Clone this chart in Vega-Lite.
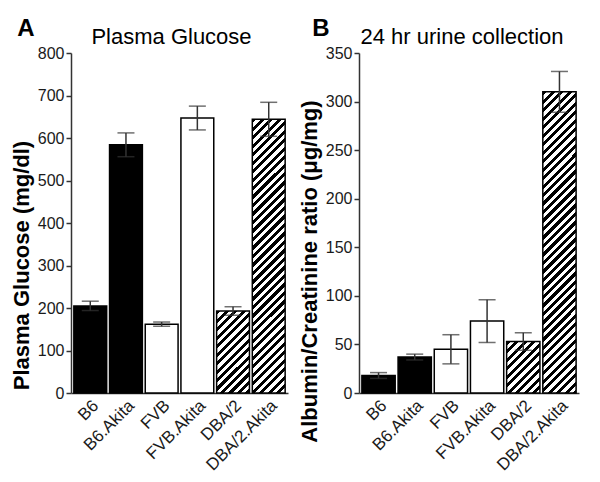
{
"$schema": "https://vega.github.io/schema/vega-lite/v6.json",
"background": "white",
"padding": {"left": 10, "top": 17, "right": 5, "bottom": 5},
"spacing": 10,
"config": {
 "view": {"stroke": null},
 "font": "Liberation Sans",
 "axis": {"grid": false, "domainColor": "#333", "domainWidth": 1.5, "tickColor": "#333", "tickWidth": 1.5, "tickSize": 5, "labelFont": "Liberation Sans", "labelFontSize": 16, "labelColor": "#1a1a1a", "labelPadding": 2, "titleFont": "Liberation Sans", "titleFontSize": 22, "titleFontWeight": "bold", "titleColor": "#000", "titlePadding": 4}
},
"data": {"values": [
 {"strain": "B6", "glucose": 205, "glu_lo": 194, "glu_hi": 216, "acr": 18, "acr_lo": 15, "acr_hi": 21},
 {"strain": "B6.Akita", "glucose": 584, "glu_lo": 556, "glu_hi": 612, "acr": 37, "acr_lo": 34, "acr_hi": 40},
 {"strain": "FVB", "glucose": 162, "glu_lo": 157, "glu_hi": 167, "acr": 45, "acr_lo": 30, "acr_hi": 60},
 {"strain": "FVB.Akita", "glucose": 647, "glu_lo": 619, "glu_hi": 675, "acr": 74, "acr_lo": 52, "acr_hi": 96},
 {"strain": "DBA/2", "glucose": 193, "glu_lo": 183, "glu_hi": 203, "acr": 53, "acr_lo": 44, "acr_hi": 62},
 {"strain": "DBA/2.Akita", "glucose": 644, "glu_lo": 604, "glu_hi": 684, "acr": 310, "acr_lo": 289, "acr_hi": 331}
]},
"hconcat": [
 {
 "title": {"text": "A", "anchor": "start", "fontSize": 24, "fontWeight": "bold", "color": "#000", "dx": 7, "offset": -15},
 "hconcat": [
 {
  "width": 217, "height": 340,
  "title": {"text": "Plasma Glucose", "frame": "group", "anchor": "middle", "fontSize": 22, "fontWeight": "normal", "color": "#000", "dx": -8, "offset": -4},
  "encoding": {
   "x": {"field": "strain", "type": "nominal", "sort": null, "scale": {"domain": ["B6", "B6.Akita", "FVB", "FVB.Akita", "DBA/2", "DBA/2.Akita"], "paddingInner": 0.08, "paddingOuter": 0.08}, "axis": {"title": null, "ticks": false, "labelAngle": -45, "labelFontSize": 17, "labelPadding": 4}}
  },
  "layer": [
   {
    "mark": {"type": "bar", "stroke": "#000", "strokeWidth": 1.5},
    "encoding": {
     "y": {"field": "glucose", "type": "quantitative", "scale": {"domain": [0, 800]}, "axis": {"title": "Plasma Glucose (mg/dl)", "titleY": 212, "values": [0, 100, 200, 300, 400, 500, 600, 700, 800]}},
     "fill": {"condition": [
       {"test": "datum.strain === 'DBA/2'", "value": {"gradient": "linear", "x1": 0, "y1": 0, "x2": 0.5709, "y2": 1.4273, "stops": [{"offset":0,"color":"#000"},{"offset":0.03125,"color":"#000"},{"offset":0.03125,"color":"#fff"},{"offset":0.0625,"color":"#fff"},{"offset":0.0625,"color":"#000"},{"offset":0.09375,"color":"#000"},{"offset":0.09375,"color":"#fff"},{"offset":0.125,"color":"#fff"},{"offset":0.125,"color":"#000"},{"offset":0.15625,"color":"#000"},{"offset":0.15625,"color":"#fff"},{"offset":0.1875,"color":"#fff"},{"offset":0.1875,"color":"#000"},{"offset":0.21875,"color":"#000"},{"offset":0.21875,"color":"#fff"},{"offset":0.25,"color":"#fff"},{"offset":0.25,"color":"#000"},{"offset":0.28125,"color":"#000"},{"offset":0.28125,"color":"#fff"},{"offset":0.3125,"color":"#fff"},{"offset":0.3125,"color":"#000"},{"offset":0.34375,"color":"#000"},{"offset":0.34375,"color":"#fff"},{"offset":0.375,"color":"#fff"},{"offset":0.375,"color":"#000"},{"offset":0.40625,"color":"#000"},{"offset":0.40625,"color":"#fff"},{"offset":0.4375,"color":"#fff"},{"offset":0.4375,"color":"#000"},{"offset":0.46875,"color":"#000"},{"offset":0.46875,"color":"#fff"},{"offset":0.5,"color":"#fff"},{"offset":0.5,"color":"#000"},{"offset":0.53125,"color":"#000"},{"offset":0.53125,"color":"#fff"},{"offset":0.5625,"color":"#fff"},{"offset":0.5625,"color":"#000"},{"offset":0.59375,"color":"#000"},{"offset":0.59375,"color":"#fff"},{"offset":0.625,"color":"#fff"},{"offset":0.625,"color":"#000"},{"offset":0.65625,"color":"#000"},{"offset":0.65625,"color":"#fff"},{"offset":0.6875,"color":"#fff"},{"offset":0.6875,"color":"#000"},{"offset":0.71875,"color":"#000"},{"offset":0.71875,"color":"#fff"},{"offset":0.75,"color":"#fff"},{"offset":0.75,"color":"#000"},{"offset":0.78125,"color":"#000"},{"offset":0.78125,"color":"#fff"},{"offset":0.8125,"color":"#fff"},{"offset":0.8125,"color":"#000"},{"offset":0.84375,"color":"#000"},{"offset":0.84375,"color":"#fff"},{"offset":0.875,"color":"#fff"},{"offset":0.875,"color":"#000"},{"offset":0.90625,"color":"#000"},{"offset":0.90625,"color":"#fff"},{"offset":0.9375,"color":"#fff"},{"offset":0.9375,"color":"#000"},{"offset":0.96875,"color":"#000"},{"offset":0.96875,"color":"#fff"},{"offset":1,"color":"#fff"}]}},
       {"test": "datum.strain === 'DBA/2.Akita'", "value": {"gradient": "linear", "x1": 0, "y1": 0, "x2": 0.1465, "y2": 1.2225, "stops": [{"offset":0,"color":"#000"},{"offset":0.0125,"color":"#000"},{"offset":0.0125,"color":"#fff"},{"offset":0.025,"color":"#fff"},{"offset":0.025,"color":"#000"},{"offset":0.0375,"color":"#000"},{"offset":0.0375,"color":"#fff"},{"offset":0.05,"color":"#fff"},{"offset":0.05,"color":"#000"},{"offset":0.0625,"color":"#000"},{"offset":0.0625,"color":"#fff"},{"offset":0.075,"color":"#fff"},{"offset":0.075,"color":"#000"},{"offset":0.0875,"color":"#000"},{"offset":0.0875,"color":"#fff"},{"offset":0.1,"color":"#fff"},{"offset":0.1,"color":"#000"},{"offset":0.1125,"color":"#000"},{"offset":0.1125,"color":"#fff"},{"offset":0.125,"color":"#fff"},{"offset":0.125,"color":"#000"},{"offset":0.1375,"color":"#000"},{"offset":0.1375,"color":"#fff"},{"offset":0.15,"color":"#fff"},{"offset":0.15,"color":"#000"},{"offset":0.1625,"color":"#000"},{"offset":0.1625,"color":"#fff"},{"offset":0.175,"color":"#fff"},{"offset":0.175,"color":"#000"},{"offset":0.1875,"color":"#000"},{"offset":0.1875,"color":"#fff"},{"offset":0.2,"color":"#fff"},{"offset":0.2,"color":"#000"},{"offset":0.2125,"color":"#000"},{"offset":0.2125,"color":"#fff"},{"offset":0.225,"color":"#fff"},{"offset":0.225,"color":"#000"},{"offset":0.2375,"color":"#000"},{"offset":0.2375,"color":"#fff"},{"offset":0.25,"color":"#fff"},{"offset":0.25,"color":"#000"},{"offset":0.2625,"color":"#000"},{"offset":0.2625,"color":"#fff"},{"offset":0.275,"color":"#fff"},{"offset":0.275,"color":"#000"},{"offset":0.2875,"color":"#000"},{"offset":0.2875,"color":"#fff"},{"offset":0.3,"color":"#fff"},{"offset":0.3,"color":"#000"},{"offset":0.3125,"color":"#000"},{"offset":0.3125,"color":"#fff"},{"offset":0.325,"color":"#fff"},{"offset":0.325,"color":"#000"},{"offset":0.3375,"color":"#000"},{"offset":0.3375,"color":"#fff"},{"offset":0.35,"color":"#fff"},{"offset":0.35,"color":"#000"},{"offset":0.3625,"color":"#000"},{"offset":0.3625,"color":"#fff"},{"offset":0.375,"color":"#fff"},{"offset":0.375,"color":"#000"},{"offset":0.3875,"color":"#000"},{"offset":0.3875,"color":"#fff"},{"offset":0.4,"color":"#fff"},{"offset":0.4,"color":"#000"},{"offset":0.4125,"color":"#000"},{"offset":0.4125,"color":"#fff"},{"offset":0.425,"color":"#fff"},{"offset":0.425,"color":"#000"},{"offset":0.4375,"color":"#000"},{"offset":0.4375,"color":"#fff"},{"offset":0.45,"color":"#fff"},{"offset":0.45,"color":"#000"},{"offset":0.4625,"color":"#000"},{"offset":0.4625,"color":"#fff"},{"offset":0.475,"color":"#fff"},{"offset":0.475,"color":"#000"},{"offset":0.4875,"color":"#000"},{"offset":0.4875,"color":"#fff"},{"offset":0.5,"color":"#fff"},{"offset":0.5,"color":"#000"},{"offset":0.5125,"color":"#000"},{"offset":0.5125,"color":"#fff"},{"offset":0.525,"color":"#fff"},{"offset":0.525,"color":"#000"},{"offset":0.5375,"color":"#000"},{"offset":0.5375,"color":"#fff"},{"offset":0.55,"color":"#fff"},{"offset":0.55,"color":"#000"},{"offset":0.5625,"color":"#000"},{"offset":0.5625,"color":"#fff"},{"offset":0.575,"color":"#fff"},{"offset":0.575,"color":"#000"},{"offset":0.5875,"color":"#000"},{"offset":0.5875,"color":"#fff"},{"offset":0.6,"color":"#fff"},{"offset":0.6,"color":"#000"},{"offset":0.6125,"color":"#000"},{"offset":0.6125,"color":"#fff"},{"offset":0.625,"color":"#fff"},{"offset":0.625,"color":"#000"},{"offset":0.6375,"color":"#000"},{"offset":0.6375,"color":"#fff"},{"offset":0.65,"color":"#fff"},{"offset":0.65,"color":"#000"},{"offset":0.6625,"color":"#000"},{"offset":0.6625,"color":"#fff"},{"offset":0.675,"color":"#fff"},{"offset":0.675,"color":"#000"},{"offset":0.6875,"color":"#000"},{"offset":0.6875,"color":"#fff"},{"offset":0.7,"color":"#fff"},{"offset":0.7,"color":"#000"},{"offset":0.7125,"color":"#000"},{"offset":0.7125,"color":"#fff"},{"offset":0.725,"color":"#fff"},{"offset":0.725,"color":"#000"},{"offset":0.7375,"color":"#000"},{"offset":0.7375,"color":"#fff"},{"offset":0.75,"color":"#fff"},{"offset":0.75,"color":"#000"},{"offset":0.7625,"color":"#000"},{"offset":0.7625,"color":"#fff"},{"offset":0.775,"color":"#fff"},{"offset":0.775,"color":"#000"},{"offset":0.7875,"color":"#000"},{"offset":0.7875,"color":"#fff"},{"offset":0.8,"color":"#fff"},{"offset":0.8,"color":"#000"},{"offset":0.8125,"color":"#000"},{"offset":0.8125,"color":"#fff"},{"offset":0.825,"color":"#fff"},{"offset":0.825,"color":"#000"},{"offset":0.8375,"color":"#000"},{"offset":0.8375,"color":"#fff"},{"offset":0.85,"color":"#fff"},{"offset":0.85,"color":"#000"},{"offset":0.8625,"color":"#000"},{"offset":0.8625,"color":"#fff"},{"offset":0.875,"color":"#fff"},{"offset":0.875,"color":"#000"},{"offset":0.8875,"color":"#000"},{"offset":0.8875,"color":"#fff"},{"offset":0.9,"color":"#fff"},{"offset":0.9,"color":"#000"},{"offset":0.9125,"color":"#000"},{"offset":0.9125,"color":"#fff"},{"offset":0.925,"color":"#fff"},{"offset":0.925,"color":"#000"},{"offset":0.9375,"color":"#000"},{"offset":0.9375,"color":"#fff"},{"offset":0.95,"color":"#fff"},{"offset":0.95,"color":"#000"},{"offset":0.9625,"color":"#000"},{"offset":0.9625,"color":"#fff"},{"offset":0.975,"color":"#fff"},{"offset":0.975,"color":"#000"},{"offset":0.9875,"color":"#000"},{"offset":0.9875,"color":"#fff"},{"offset":1,"color":"#fff"}]}},
       {"test": "datum.strain === 'B6' || datum.strain === 'B6.Akita'", "value": "#000"}
      ], "value": "#fff"}
    }
   },
   {
    "mark": {"type": "rule", "color": "#333", "strokeWidth": 1.5},
    "encoding": {
     "y": {"field": "glu_lo", "type": "quantitative", "scale": {"domain": [0, 800]}, "axis": {"title": "Plasma Glucose (mg/dl)", "titleY": 212, "values": [0, 100, 200, 300, 400, 500, 600, 700, 800]}},
     "y2": {"field": "glu_hi"}
    }
   },
   {
    "mark": {"type": "tick", "color": "#333", "thickness": 1.5, "size": 17},
    "encoding": {
     "y": {"field": "glu_lo", "type": "quantitative", "scale": {"domain": [0, 800]}, "axis": {"title": "Plasma Glucose (mg/dl)", "titleY": 212, "values": [0, 100, 200, 300, 400, 500, 600, 700, 800]}}
    }
   },
   {
    "mark": {"type": "tick", "color": "#333", "thickness": 1.5, "size": 17},
    "encoding": {
     "y": {"field": "glu_hi", "type": "quantitative", "scale": {"domain": [0, 800]}, "axis": {"title": "Plasma Glucose (mg/dl)", "titleY": 212, "values": [0, 100, 200, 300, 400, 500, 600, 700, 800]}}
    }
   }
  ]
 }
 ]
 },
 {
 "title": {"text": "B", "anchor": "start", "fontSize": 24, "fontWeight": "bold", "color": "#000", "dx": 14, "offset": -15},
 "hconcat": [
 {
  "width": 220, "height": 340,
  "title": {"text": "24 hr urine collection", "frame": "group", "anchor": "middle", "fontSize": 22, "fontWeight": "normal", "color": "#000", "dx": -7, "offset": -4},
  "encoding": {
   "x": {"field": "strain", "type": "nominal", "sort": null, "scale": {"domain": ["B6", "B6.Akita", "FVB", "FVB.Akita", "DBA/2", "DBA/2.Akita"], "paddingInner": 0.08, "paddingOuter": 0.08}, "axis": {"title": null, "ticks": false, "labelAngle": -45, "labelFontSize": 17, "labelPadding": 4}}
  },
  "layer": [
   {
    "mark": {"type": "bar", "stroke": "#000", "strokeWidth": 1.5},
    "encoding": {
     "y": {"field": "acr", "type": "quantitative", "scale": {"domain": [0, 350]}, "axis": {"title": "Albumin/Creatinine ratio (μg/mg)", "titleY": 218, "values": [0, 50, 100, 150, 200, 250, 300, 350]}},
     "fill": {"condition": [
       {"test": "datum.strain === 'DBA/2'", "value": {"gradient": "linear", "x1": 0, "y1": 0, "x2": 1.2020, "y2": 1.8589, "stops": [{"offset":0,"color":"#000"},{"offset":0.03125,"color":"#000"},{"offset":0.03125,"color":"#fff"},{"offset":0.0625,"color":"#fff"},{"offset":0.0625,"color":"#000"},{"offset":0.09375,"color":"#000"},{"offset":0.09375,"color":"#fff"},{"offset":0.125,"color":"#fff"},{"offset":0.125,"color":"#000"},{"offset":0.15625,"color":"#000"},{"offset":0.15625,"color":"#fff"},{"offset":0.1875,"color":"#fff"},{"offset":0.1875,"color":"#000"},{"offset":0.21875,"color":"#000"},{"offset":0.21875,"color":"#fff"},{"offset":0.25,"color":"#fff"},{"offset":0.25,"color":"#000"},{"offset":0.28125,"color":"#000"},{"offset":0.28125,"color":"#fff"},{"offset":0.3125,"color":"#fff"},{"offset":0.3125,"color":"#000"},{"offset":0.34375,"color":"#000"},{"offset":0.34375,"color":"#fff"},{"offset":0.375,"color":"#fff"},{"offset":0.375,"color":"#000"},{"offset":0.40625,"color":"#000"},{"offset":0.40625,"color":"#fff"},{"offset":0.4375,"color":"#fff"},{"offset":0.4375,"color":"#000"},{"offset":0.46875,"color":"#000"},{"offset":0.46875,"color":"#fff"},{"offset":0.5,"color":"#fff"},{"offset":0.5,"color":"#000"},{"offset":0.53125,"color":"#000"},{"offset":0.53125,"color":"#fff"},{"offset":0.5625,"color":"#fff"},{"offset":0.5625,"color":"#000"},{"offset":0.59375,"color":"#000"},{"offset":0.59375,"color":"#fff"},{"offset":0.625,"color":"#fff"},{"offset":0.625,"color":"#000"},{"offset":0.65625,"color":"#000"},{"offset":0.65625,"color":"#fff"},{"offset":0.6875,"color":"#fff"},{"offset":0.6875,"color":"#000"},{"offset":0.71875,"color":"#000"},{"offset":0.71875,"color":"#fff"},{"offset":0.75,"color":"#fff"},{"offset":0.75,"color":"#000"},{"offset":0.78125,"color":"#000"},{"offset":0.78125,"color":"#fff"},{"offset":0.8125,"color":"#fff"},{"offset":0.8125,"color":"#000"},{"offset":0.84375,"color":"#000"},{"offset":0.84375,"color":"#fff"},{"offset":0.875,"color":"#fff"},{"offset":0.875,"color":"#000"},{"offset":0.90625,"color":"#000"},{"offset":0.90625,"color":"#fff"},{"offset":0.9375,"color":"#fff"},{"offset":0.9375,"color":"#000"},{"offset":0.96875,"color":"#000"},{"offset":0.96875,"color":"#fff"},{"offset":1,"color":"#fff"}]}},
       {"test": "datum.strain === 'DBA/2.Akita'", "value": {"gradient": "linear", "x1": 0, "y1": 0, "x2": 0.1232, "y2": 1.1136, "stops": [{"offset":0,"color":"#000"},{"offset":0.0125,"color":"#000"},{"offset":0.0125,"color":"#fff"},{"offset":0.025,"color":"#fff"},{"offset":0.025,"color":"#000"},{"offset":0.0375,"color":"#000"},{"offset":0.0375,"color":"#fff"},{"offset":0.05,"color":"#fff"},{"offset":0.05,"color":"#000"},{"offset":0.0625,"color":"#000"},{"offset":0.0625,"color":"#fff"},{"offset":0.075,"color":"#fff"},{"offset":0.075,"color":"#000"},{"offset":0.0875,"color":"#000"},{"offset":0.0875,"color":"#fff"},{"offset":0.1,"color":"#fff"},{"offset":0.1,"color":"#000"},{"offset":0.1125,"color":"#000"},{"offset":0.1125,"color":"#fff"},{"offset":0.125,"color":"#fff"},{"offset":0.125,"color":"#000"},{"offset":0.1375,"color":"#000"},{"offset":0.1375,"color":"#fff"},{"offset":0.15,"color":"#fff"},{"offset":0.15,"color":"#000"},{"offset":0.1625,"color":"#000"},{"offset":0.1625,"color":"#fff"},{"offset":0.175,"color":"#fff"},{"offset":0.175,"color":"#000"},{"offset":0.1875,"color":"#000"},{"offset":0.1875,"color":"#fff"},{"offset":0.2,"color":"#fff"},{"offset":0.2,"color":"#000"},{"offset":0.2125,"color":"#000"},{"offset":0.2125,"color":"#fff"},{"offset":0.225,"color":"#fff"},{"offset":0.225,"color":"#000"},{"offset":0.2375,"color":"#000"},{"offset":0.2375,"color":"#fff"},{"offset":0.25,"color":"#fff"},{"offset":0.25,"color":"#000"},{"offset":0.2625,"color":"#000"},{"offset":0.2625,"color":"#fff"},{"offset":0.275,"color":"#fff"},{"offset":0.275,"color":"#000"},{"offset":0.2875,"color":"#000"},{"offset":0.2875,"color":"#fff"},{"offset":0.3,"color":"#fff"},{"offset":0.3,"color":"#000"},{"offset":0.3125,"color":"#000"},{"offset":0.3125,"color":"#fff"},{"offset":0.325,"color":"#fff"},{"offset":0.325,"color":"#000"},{"offset":0.3375,"color":"#000"},{"offset":0.3375,"color":"#fff"},{"offset":0.35,"color":"#fff"},{"offset":0.35,"color":"#000"},{"offset":0.3625,"color":"#000"},{"offset":0.3625,"color":"#fff"},{"offset":0.375,"color":"#fff"},{"offset":0.375,"color":"#000"},{"offset":0.3875,"color":"#000"},{"offset":0.3875,"color":"#fff"},{"offset":0.4,"color":"#fff"},{"offset":0.4,"color":"#000"},{"offset":0.4125,"color":"#000"},{"offset":0.4125,"color":"#fff"},{"offset":0.425,"color":"#fff"},{"offset":0.425,"color":"#000"},{"offset":0.4375,"color":"#000"},{"offset":0.4375,"color":"#fff"},{"offset":0.45,"color":"#fff"},{"offset":0.45,"color":"#000"},{"offset":0.4625,"color":"#000"},{"offset":0.4625,"color":"#fff"},{"offset":0.475,"color":"#fff"},{"offset":0.475,"color":"#000"},{"offset":0.4875,"color":"#000"},{"offset":0.4875,"color":"#fff"},{"offset":0.5,"color":"#fff"},{"offset":0.5,"color":"#000"},{"offset":0.5125,"color":"#000"},{"offset":0.5125,"color":"#fff"},{"offset":0.525,"color":"#fff"},{"offset":0.525,"color":"#000"},{"offset":0.5375,"color":"#000"},{"offset":0.5375,"color":"#fff"},{"offset":0.55,"color":"#fff"},{"offset":0.55,"color":"#000"},{"offset":0.5625,"color":"#000"},{"offset":0.5625,"color":"#fff"},{"offset":0.575,"color":"#fff"},{"offset":0.575,"color":"#000"},{"offset":0.5875,"color":"#000"},{"offset":0.5875,"color":"#fff"},{"offset":0.6,"color":"#fff"},{"offset":0.6,"color":"#000"},{"offset":0.6125,"color":"#000"},{"offset":0.6125,"color":"#fff"},{"offset":0.625,"color":"#fff"},{"offset":0.625,"color":"#000"},{"offset":0.6375,"color":"#000"},{"offset":0.6375,"color":"#fff"},{"offset":0.65,"color":"#fff"},{"offset":0.65,"color":"#000"},{"offset":0.6625,"color":"#000"},{"offset":0.6625,"color":"#fff"},{"offset":0.675,"color":"#fff"},{"offset":0.675,"color":"#000"},{"offset":0.6875,"color":"#000"},{"offset":0.6875,"color":"#fff"},{"offset":0.7,"color":"#fff"},{"offset":0.7,"color":"#000"},{"offset":0.7125,"color":"#000"},{"offset":0.7125,"color":"#fff"},{"offset":0.725,"color":"#fff"},{"offset":0.725,"color":"#000"},{"offset":0.7375,"color":"#000"},{"offset":0.7375,"color":"#fff"},{"offset":0.75,"color":"#fff"},{"offset":0.75,"color":"#000"},{"offset":0.7625,"color":"#000"},{"offset":0.7625,"color":"#fff"},{"offset":0.775,"color":"#fff"},{"offset":0.775,"color":"#000"},{"offset":0.7875,"color":"#000"},{"offset":0.7875,"color":"#fff"},{"offset":0.8,"color":"#fff"},{"offset":0.8,"color":"#000"},{"offset":0.8125,"color":"#000"},{"offset":0.8125,"color":"#fff"},{"offset":0.825,"color":"#fff"},{"offset":0.825,"color":"#000"},{"offset":0.8375,"color":"#000"},{"offset":0.8375,"color":"#fff"},{"offset":0.85,"color":"#fff"},{"offset":0.85,"color":"#000"},{"offset":0.8625,"color":"#000"},{"offset":0.8625,"color":"#fff"},{"offset":0.875,"color":"#fff"},{"offset":0.875,"color":"#000"},{"offset":0.8875,"color":"#000"},{"offset":0.8875,"color":"#fff"},{"offset":0.9,"color":"#fff"},{"offset":0.9,"color":"#000"},{"offset":0.9125,"color":"#000"},{"offset":0.9125,"color":"#fff"},{"offset":0.925,"color":"#fff"},{"offset":0.925,"color":"#000"},{"offset":0.9375,"color":"#000"},{"offset":0.9375,"color":"#fff"},{"offset":0.95,"color":"#fff"},{"offset":0.95,"color":"#000"},{"offset":0.9625,"color":"#000"},{"offset":0.9625,"color":"#fff"},{"offset":0.975,"color":"#fff"},{"offset":0.975,"color":"#000"},{"offset":0.9875,"color":"#000"},{"offset":0.9875,"color":"#fff"},{"offset":1,"color":"#fff"}]}},
       {"test": "datum.strain === 'B6' || datum.strain === 'B6.Akita'", "value": "#000"}
      ], "value": "#fff"}
    }
   },
   {
    "mark": {"type": "rule", "color": "#333", "strokeWidth": 1.5},
    "encoding": {
     "y": {"field": "acr_lo", "type": "quantitative", "scale": {"domain": [0, 350]}, "axis": {"title": "Albumin/Creatinine ratio (μg/mg)", "titleY": 218, "values": [0, 50, 100, 150, 200, 250, 300, 350]}},
     "y2": {"field": "acr_hi"}
    }
   },
   {
    "mark": {"type": "tick", "color": "#333", "thickness": 1.5, "size": 17},
    "encoding": {
     "y": {"field": "acr_lo", "type": "quantitative", "scale": {"domain": [0, 350]}, "axis": {"title": "Albumin/Creatinine ratio (μg/mg)", "titleY": 218, "values": [0, 50, 100, 150, 200, 250, 300, 350]}}
    }
   },
   {
    "mark": {"type": "tick", "color": "#333", "thickness": 1.5, "size": 17},
    "encoding": {
     "y": {"field": "acr_hi", "type": "quantitative", "scale": {"domain": [0, 350]}, "axis": {"title": "Albumin/Creatinine ratio (μg/mg)", "titleY": 218, "values": [0, 50, 100, 150, 200, 250, 300, 350]}}
    }
   }
  ]
 }
 ]
 }
]
}
